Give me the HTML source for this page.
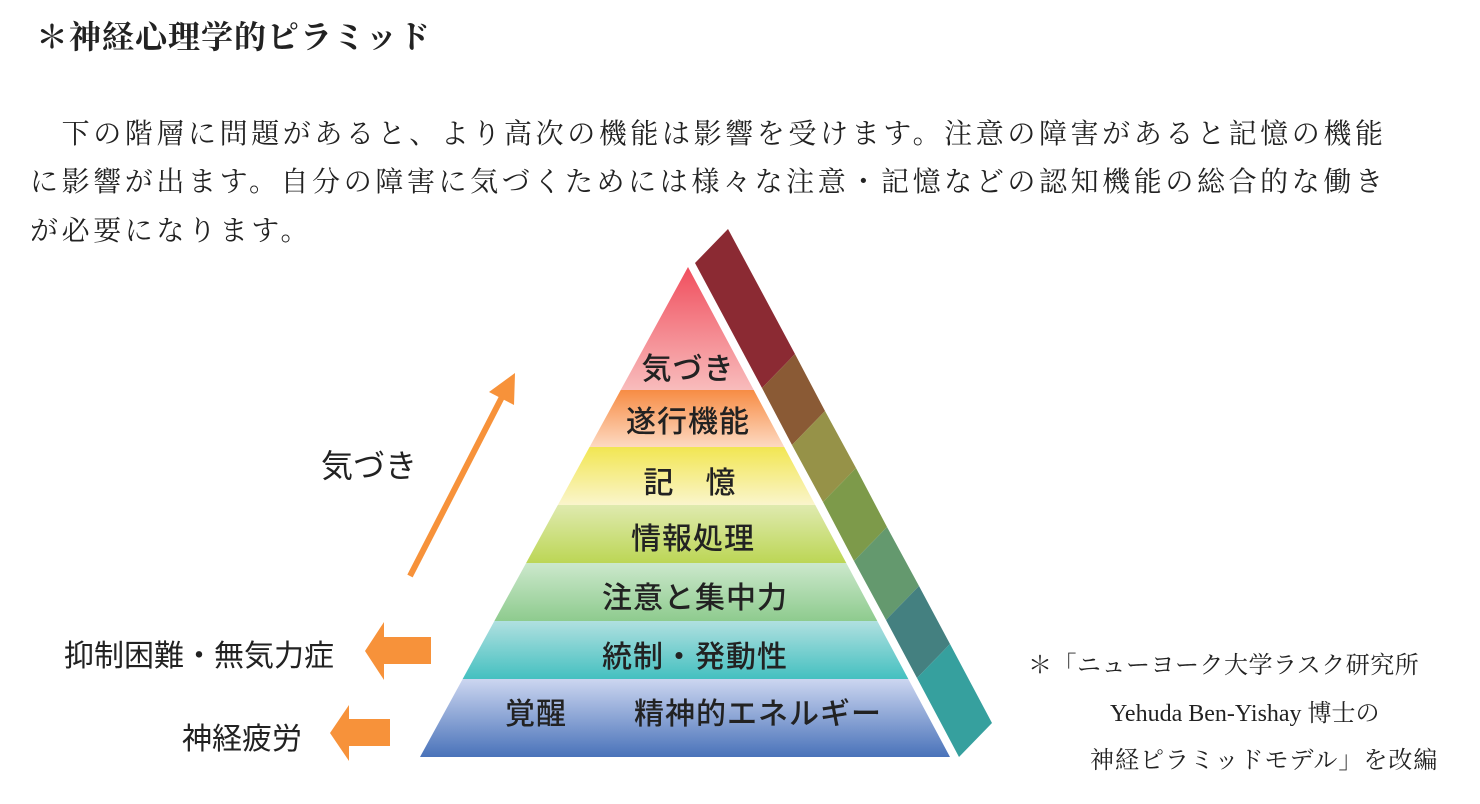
<!DOCTYPE html>
<html><head><meta charset="utf-8"><style>
html,body{margin:0;padding:0;background:#fff;}
body{width:1480px;height:804px;overflow:hidden;position:relative;}
.s{font-family:"Liberation Serif","Noto Serif CJK SC",serif;color:#222;position:absolute;white-space:nowrap;}
</style></head><body>
<div class="s" style="left:36px;top:12px;font-size:32px;font-weight:bold;letter-spacing:1px;">＊神経心理学的ピラミッド</div>
<div class="s" style="left:30px;top:112px;font-size:28px;letter-spacing:3.6px;">　下の階層に問題があると、より高次の機能は影響を受けます。注意の障害があると記憶の機能</div>
<div class="s" style="left:30px;top:160px;font-size:28px;letter-spacing:3.6px;">に影響が出ます。自分の障害に気づくためには様々な注意・記憶などの認知機能の総合的な働き</div>
<div class="s" style="left:30px;top:209px;font-size:28px;letter-spacing:3.6px;">が必要になります。</div>
<svg width="1480" height="804" style="position:absolute;left:0;top:0" font-family="Liberation Sans,Noto Sans CJK JP,sans-serif">
<defs>
<clipPath id="tri"><polygon points="688,267 420,757 950,757"/></clipPath>
<linearGradient id="g1" x1="0" y1="0" x2="0" y2="1"><stop offset="0" stop-color="#f04858"/><stop offset="1" stop-color="#f8bcbc"/></linearGradient>
<linearGradient id="g2" x1="0" y1="0" x2="0" y2="1"><stop offset="0" stop-color="#f78c44"/><stop offset="1" stop-color="#fdd9c2"/></linearGradient>
<linearGradient id="g3" x1="0" y1="0" x2="0" y2="1"><stop offset="0" stop-color="#f2e652"/><stop offset="1" stop-color="#faf5cc"/></linearGradient>
<linearGradient id="g4" x1="0" y1="0" x2="0" y2="1"><stop offset="0" stop-color="#dfeaaf"/><stop offset="1" stop-color="#bcd655"/></linearGradient>
<linearGradient id="g5" x1="0" y1="0" x2="0" y2="1"><stop offset="0" stop-color="#cce8cc"/><stop offset="1" stop-color="#8ecb8e"/></linearGradient>
<linearGradient id="g6" x1="0" y1="0" x2="0" y2="1"><stop offset="0" stop-color="#b0e0e0"/><stop offset="1" stop-color="#44c0c0"/></linearGradient>
<linearGradient id="g7" x1="0" y1="0" x2="0" y2="1"><stop offset="0" stop-color="#ccd6f0"/><stop offset="1" stop-color="#4670b8"/></linearGradient>
</defs>
<g clip-path="url(#tri)">
<rect x="400" y="260" width="600" height="130" fill="url(#g1)"/>
<rect x="400" y="390" width="600" height="57" fill="url(#g2)"/>
<rect x="400" y="447" width="600" height="58" fill="url(#g3)"/>
<rect x="400" y="505" width="600" height="58" fill="url(#g4)"/>
<rect x="400" y="563" width="600" height="58" fill="url(#g5)"/>
<rect x="400" y="621" width="600" height="58" fill="url(#g6)"/>
<rect x="400" y="679" width="600" height="80" fill="url(#g7)"/>
</g>
<!-- side band -->
<polygon points="695,263 728,229 795,354 762,388" fill="#8b2a33"/>
<polygon points="762,388 795,354 825,411 792,445" fill="#8a5a35"/>
<polygon points="792,445 825,411 856,468 823,502" fill="#969248"/>
<polygon points="823,502 856,468 887,527 854,561" fill="#7d9a4a"/>
<polygon points="854,561 887,527 919,586 886,620" fill="#64996e"/>
<polygon points="886,620 919,586 950,644 917,678" fill="#448080"/>
<polygon points="917,678 950,644 992,723 959,757" fill="#36a09e"/>
<g font-size="30" fill="#222" text-anchor="middle" font-weight="500" letter-spacing="1">
<text x="688" y="379">気づき</text>
<text x="688" y="432">遂行機能</text>
<text x="690" y="493">記　憶</text>
<text x="693" y="549">情報処理</text>
<text x="695" y="608">注意と集中力</text>
<text x="695" y="667">統制・発動性</text>
<text x="536" y="724">覚醒</text>
<text x="758" y="724">精神的エネルギー</text>
</g>
<g fill="#222">
<text x="321" y="477" font-size="32">気づき</text>
<text x="64" y="666" font-size="30">抑制困難・無気力症</text>
<text x="182" y="749" font-size="30">神経疲労</text>
</g>
<line x1="410" y1="576" x2="503" y2="395" stroke="#f7923a" stroke-width="6"/>
<polygon points="515,373 514,405 489,392" fill="#f7923a"/>
<polygon points="365,651 384,622 384,637 431,637 431,664 384,664 384,680" fill="#f7923a"/>
<polygon points="330,733 349,705 349,719 390,719 390,746 349,746 349,761" fill="#f7923a"/>
<g font-family="Liberation Serif,Noto Serif CJK SC,serif" font-size="24" fill="#222">
<text x="1028" y="673" letter-spacing="0.5">＊「ニューヨーク大学ラスク研究所</text>
<text x="1110" y="721">Yehuda Ben-Yishay 博士の</text>
<text x="1090" y="768" letter-spacing="1">神経ピラミッドモデル」を改編</text>
</g>
</svg>
</body></html>
